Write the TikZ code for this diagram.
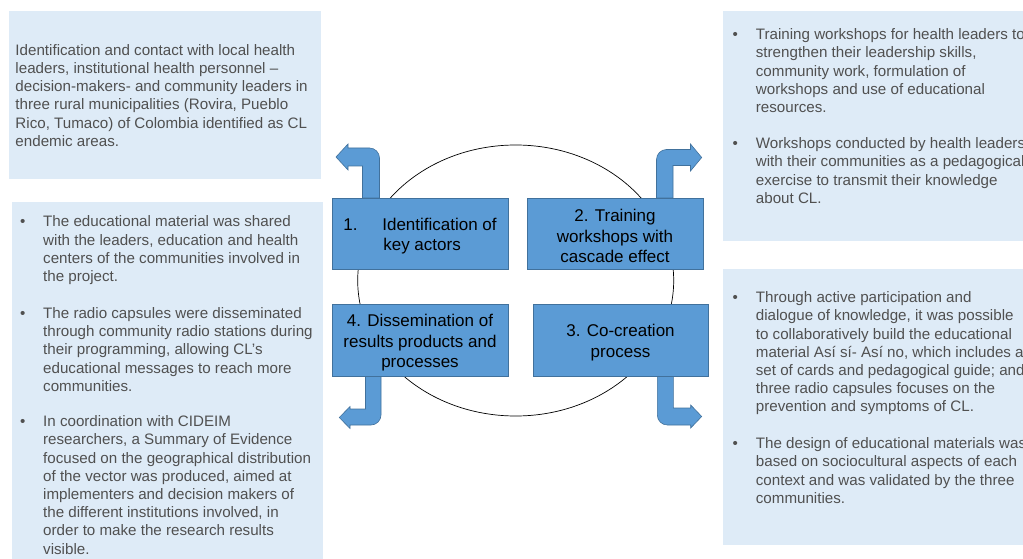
\documentclass[tikz,border=0pt]{standalone}
\usepackage{fontspec}
\setmainfont{Liberation Sans}
\usepackage{tikz}
\definecolor{BoxBlue}{RGB}{91,155,213}
\definecolor{BoxEdge}{RGB}{65,113,156}
\definecolor{PanelBlue}{RGB}{222,235,247}
\definecolor{TextGray}{RGB}{80,80,80}
\tikzstyle{stage} = [draw=BoxEdge, line width=0.8pt, fill=BoxBlue, inner sep=0pt, align=center, font=\fontsize{17}{20.6}\selectfont]
\tikzstyle{panel} = [fill=PanelBlue]
\tikzstyle{sidetext} = [anchor=north west, inner sep=0pt, align=left, text=TextGray, font=\fontsize{15.15}{18.2}\selectfont]
\tikzstyle{dot} = [anchor=base west, inner sep=0pt, text=TextGray, font=\fontsize{15.15}{18.2}\selectfont]
\tikzstyle{bentarrow} = [fill=BoxBlue, draw=BoxEdge, line width=0.6pt]

\begin{document}
\begin{tikzpicture}[x=1pt, y=-1pt]
        \useasboundingbox (0,0) rectangle (1023,559);
        \clip (0,0) rectangle (1023,559);

        % Panels
        \fill[panel] (9,11) rectangle (321,179);
        \fill[panel] (11.5,201.5) rectangle (322.5,570);
        \fill[panel] (723,11) rectangle (1040,241);
        \fill[panel] (723,269) rectangle (1040,545);

        % Top left panel
        \node[sidetext] (actors) at (15.3,44.1) {Identification and contact with local health\\leaders, institutional health personnel --\\decision-makers- and community leaders in\\three rural municipalities (Rovira, Pueblo\\Rico, Tumaco) of Colombia identified as CL\\endemic areas.};

        % Top right panel
        \node[dot] (dottraina) at (732.5,39.5) {•};
        \node[sidetext] (traina) at (755.7,28.6) {Training workshops for health leaders to\\strengthen their leadership skills,\\community work, formulation of\\workshops and use of educational\\resources.};
        \node[dot] (dottrainb) at (732.5,148.5) {•};
        \node[sidetext] (trainb) at (755.7,137.6) {Workshops conducted by health leaders\\with their communities as a pedagogical\\exercise to transmit their knowledge\\about CL.};

        % Bottom right panel
        \node[dot] (dotcreatea) at (732.5,302.5) {•};
        \node[sidetext] (createa) at (755.7,291.6) {Through active participation and\\dialogue of knowledge, it was possible\\to collaboratively build the educational\\material Así sí- Así no, which includes a\\set of cards and pedagogical guide; and\\three radio capsules focuses on the\\prevention and symptoms of CL.};
        \node[dot] (dotcreateb) at (732.5,448.5) {•};
        \node[sidetext] (createb) at (755.7,437.6) {The design of educational materials was\\based on sociocultural aspects of each\\context and was validated by the three\\communities.};

        % Bottom left panel
        \node[dot] (dotsharea) at (20,226.6) {•};
        \node[sidetext] (sharea) at (43,215.7) {The educational material was shared\\with the leaders, education and health\\centers of the communities involved in\\the project.};
        \node[dot] (dotshareb) at (20,318.2) {•};
        \node[sidetext] (shareb) at (43,307.3) {The radio capsules were disseminated\\through community radio stations during\\their programming, allowing CL’s\\educational messages to reach more\\communities.};
        \node[dot] (dotsharec) at (20,426.4) {•};
        \node[sidetext] (sharec) at (43,415.5) {In coordination with CIDEIM\\researchers, a Summary of Evidence\\focused on the geographical distribution\\of the vector was produced, aimed at\\implementers and decision makers of\\the different institutions involved, in\\order to make the research results\\visible.};

        % Cycle
        \draw[line width=0.7pt] (515.7,280.5) ellipse [x radius=158, y radius=135.5];

        % Bent arrows
        \filldraw[bentarrow] (362.5,198) -- (362.5,166) -- (348,166) -- (348,170) -- (336,157) -- (348,144) -- (348,148) -- (369.5,148) .. controls (375,148) and (379.5,152.5) .. (379.5,158) -- (379.5,198) -- cycle;
        \filldraw[bentarrow] (673,198) -- (673,165.5) -- (690.5,165.5) -- (690.5,171) -- (701.7,157.5) -- (690.5,144) -- (690.5,149.5) -- (666.5,149.5) .. controls (661,149.5) and (656.5,154) .. (656.5,159.5) -- (656.5,198) -- cycle;
        \filldraw[bentarrow] (365.5,376) -- (365.5,409) -- (350,409) -- (350,406.5) -- (339.3,417.5) -- (350,428.5) -- (350,425) -- (371,425) .. controls (376.5,425) and (381,420.5) .. (381,415) -- (381,376) -- cycle;
        \filldraw[bentarrow] (673.3,376) -- (673.3,408) -- (690.7,408) -- (690.7,405) -- (701.7,416.5) -- (690.7,428) -- (690.7,425) -- (667.3,425) .. controls (661.8,425) and (657.3,420.5) .. (657.3,415) -- (657.3,376) -- cycle;

        % Stages (the rule pushes the text a little down, as in the slide)
        \node[stage, minimum width=176pt, minimum height=71pt, align=left] (identify) at (420,233.5) {\rule{0pt}{17.8pt}\makebox[39pt][l]{1.}Identification of\\\hspace*{40pt}key actors};
        \node[stage, minimum width=176pt, minimum height=71pt] (training) at (615,233.5) {\rule{0pt}{17.8pt}2. Training\\workshops with\\cascade effect};
        \node[stage, minimum width=175pt, minimum height=72pt] (cocreate) at (620.5,340) {\rule{0pt}{17.8pt}3. Co-creation\\process};
        \node[stage, minimum width=176pt, minimum height=72pt] (dissem) at (420,340) {\rule{0pt}{17.8pt}4. Dissemination of\\results products and\\processes};

      \end{tikzpicture}
\end{document}
